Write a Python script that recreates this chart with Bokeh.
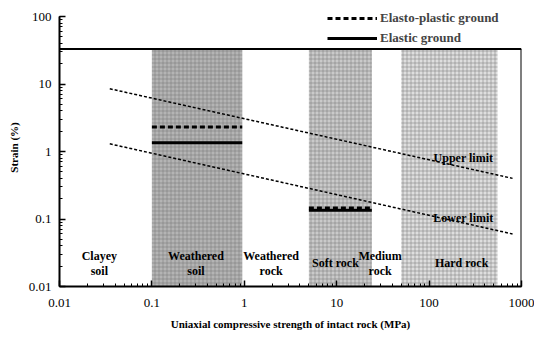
from bokeh.plotting import figure
from bokeh.models import Range1d, Legend, LegendItem, CustomJSTickFormatter, ColumnDataSource
from bokeh.core.properties import value
from bokeh.embed import file_html
from bokeh.resources import INLINE

# ---- data ----
band_left = [0.1, 5, 50]
band_right = [0.95, 24, 550]
band_fill = ["#b4b4b4", "#cacaca", "#dedede"]
frame_top = 33

limit_x = [0.035, 800]
upper_y = [8.5, 0.4]
lower_y = [1.3, 0.06]

ep_x0 = [0.1, 5]
ep_x1 = [0.95, 24]
ep_y = [2.3, 0.145]
el_x0 = [0.1, 5]
el_x1 = [0.95, 24]
el_y = [1.35, 0.135]

region_labels = ["Clayey\nsoil", "Weathered\nsoil", "Weathered\nrock", "Soft rock", "Medium\nrock", "Hard rock"]
region_x = [0.027, 0.30, 1.95, 9.7, 29.5, 225]
region_y = [0.022, 0.022, 0.022, 0.022, 0.022, 0.022]

limit_labels = ["Upper limit", "Lower limit"]
limit_lx = [235, 235]
limit_ly = [0.79, 0.105]

FONT = "Liberation Serif"

p = figure(frame_width=462, frame_height=278, x_axis_type="log", y_axis_type="log",
           x_range=Range1d(0.01, 1000), y_range=Range1d(0.01, 131.4),
           output_backend="svg", toolbar_location=None,
           min_border_left=59, min_border_right=13, min_border_top=8, min_border_bottom=44)
p.outline_line_color = None
p.xgrid.visible = False
p.ygrid.visible = False
p.background_fill_color = "white"

# bands
bsrc = ColumnDataSource(dict(left=band_left, right=band_right, bottom=[0.01]*3, top=[frame_top]*3, fill=band_fill))
p.quad(left="left", right="right", bottom="bottom", top="top", source=bsrc,
       fill_color="fill", line_color=None, hatch_pattern="+", hatch_color="#707070",
       hatch_scale=4, hatch_weight=0.8, hatch_alpha=0.6)

# frame top and right
p.segment(x0=[0.01], y0=[frame_top], x1=[1000], y1=[frame_top], line_color="black", line_width=2)
p.segment(x0=[1000], y0=[0.01], x1=[1000], y1=[frame_top], line_color="black", line_width=2)

# limit lines
p.line(limit_x, upper_y, line_color="black", line_width=1.5, line_dash="3 2")
p.line(limit_x, lower_y, line_color="black", line_width=1.5, line_dash="3 2")

# elastic / elasto-plastic segments
r_el = p.segment(x0=el_x0, y0=el_y, x1=el_x1, y1=el_y, line_color="black", line_width=3)
r_ep = p.segment(x0=ep_x0, y0=ep_y, x1=ep_x1, y1=ep_y, line_color="black", line_width=3, line_dash="5 3")

# labels
p.text(x=region_x, y=region_y, text=region_labels, text_font=value(FONT), text_font_style="bold",
       text_font_size="12px", text_align="center", text_baseline="middle", text_line_height=1.05)
p.text(x=limit_lx, y=limit_ly, text=limit_labels, text_font=value(FONT), text_font_style="bold",
       text_font_size="12px", text_align="center", text_baseline="middle")

legend = Legend(items=[LegendItem(label="Elasto-plastic ground", renderers=[r_ep]),
                       LegendItem(label="Elastic ground", renderers=[r_el])],
                location=(268, 238), glyph_width=50, glyph_height=20, label_height=20,
                spacing=0, padding=0, margin=0, label_standoff=3,
                label_text_font=FONT, label_text_font_style="bold", label_text_font_size="13px",
                background_fill_alpha=0, border_line_color=None)
p.add_layout(legend)

fmt = CustomJSTickFormatter(code="return String(Number(tick.toPrecision(6)));")
for ax in (p.xaxis, p.yaxis):
    ax.formatter = fmt
    ax.axis_line_width = 2
    ax.axis_line_color = "black"
    ax.major_tick_in = 6
    ax.major_tick_out = 0
    ax.minor_tick_in = 3
    ax.minor_tick_out = 0
    ax.major_tick_line_width = 1.5
    ax.major_label_text_font = FONT
    ax.major_label_text_font_size = "13px"
    ax.major_label_text_color = "black"
    ax.axis_label_text_font = FONT
    ax.axis_label_text_font_style = "bold"
    ax.axis_label_text_font_size = "11px"
    ax.axis_label_text_color = "black"

p.yaxis.bounds = (0.01, 100)
p.xaxis.axis_label = "Uniaxial compressive strength of intact rock (MPa)"
p.yaxis.axis_label = "Strain (%)"
p.xaxis.major_label_standoff = 12
p.yaxis.major_label_standoff = 8
p.xaxis.axis_label_standoff = 8
p.yaxis.axis_label_standoff = 6

open("out.html", "w").write(file_html(p, INLINE))
